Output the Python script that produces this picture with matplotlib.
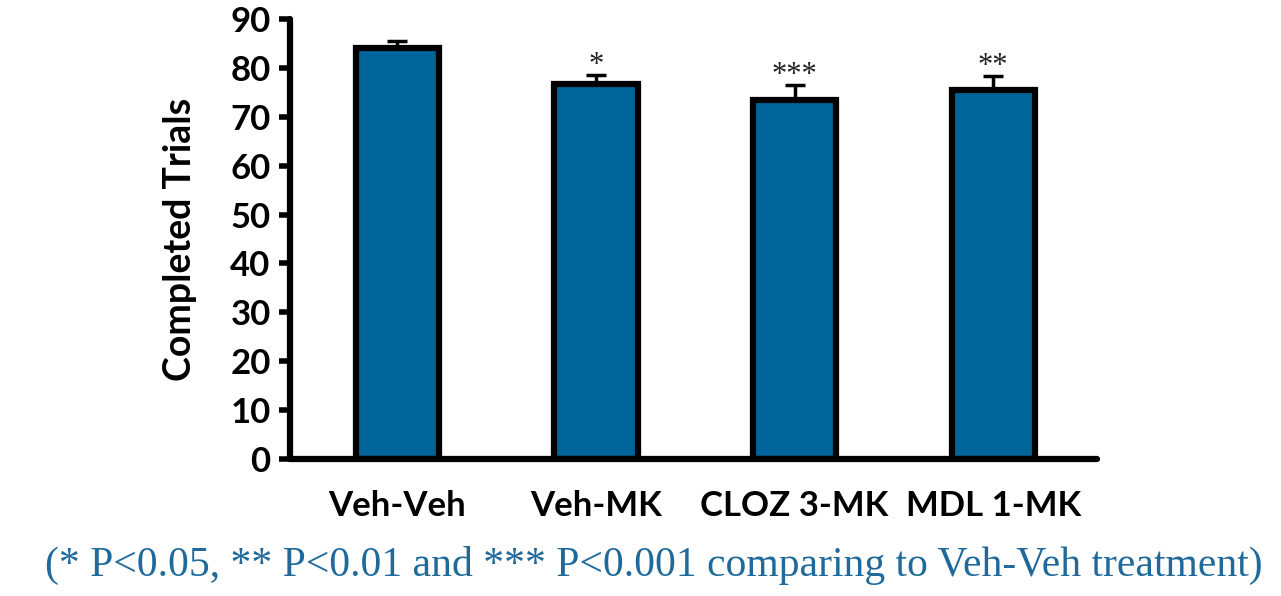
import matplotlib.pyplot as plt
import numpy as np

# data
groups = ["Veh-Veh", "Veh-MK", "CLOZ 3-MK", "MDL 1-MK"]
means = [84.1, 76.7, 73.4, 75.5]
sem = [1.4, 1.8, 3.0, 2.8]
stars = ["", "*", "***", "**"]
yticks = [0, 10, 20, 30, 40, 50, 60, 70, 80, 90]

bar_color = '#00659a'
note_color = '#1f6a9a'

fig = plt.figure(figsize=(12.81, 5.96), dpi=100)
ax = fig.add_axes([0.2264, 0.2299, 0.6296, 0.7383])

x = np.arange(len(groups))
ax.bar(x, means, width=0.42, color=bar_color, edgecolor='black', linewidth=4.5, zorder=2)
ax.errorbar(x, means, yerr=[np.zeros(len(sem)), sem], fmt='none', ecolor='black',
            elinewidth=2.5, capsize=7, capthick=2.5, zorder=1)

# significance stars just above the caps
for xi, m, s, st in zip(x, means, sem, stars):
    if st:
        ax.text(xi, m + s + 0.4, st, ha='center', va='baseline', fontsize=22,
                family='Liberation Serif', color='#222222')

ax.set_xlim(-0.54, 3.52)
ax.set_ylim(0, 90)
ax.set_yticks(yticks)
ax.set_xticks(x)
ax.set_xticklabels(groups, fontsize=25, fontweight='bold', family='Lato')
ax.set_yticklabels([str(v) for v in yticks], fontsize=25, fontweight='bold', family='Lato')
ax.set_ylabel("Completed Trials", fontsize=27, fontweight='bold', family='Lato', labelpad=24)

for side in ['top', 'right']:
    ax.spines[side].set_visible(False)
for side in ['left', 'bottom']:
    ax.spines[side].set_linewidth(4.5)
    ax.spines[side].set_capstyle('round')
ax.tick_params(axis='y', direction='out', length=8, width=4, pad=6)
ax.tick_params(axis='x', length=0, pad=22)

fig.text(0.035, 0.052, "(* P<0.05, ** P<0.01 and *** P<0.001 comparing to Veh-Veh treatment)",
         fontsize=30, family='Liberation Serif', color=note_color, ha='left', va='center')

fig.savefig('out.png', dpi=100)
